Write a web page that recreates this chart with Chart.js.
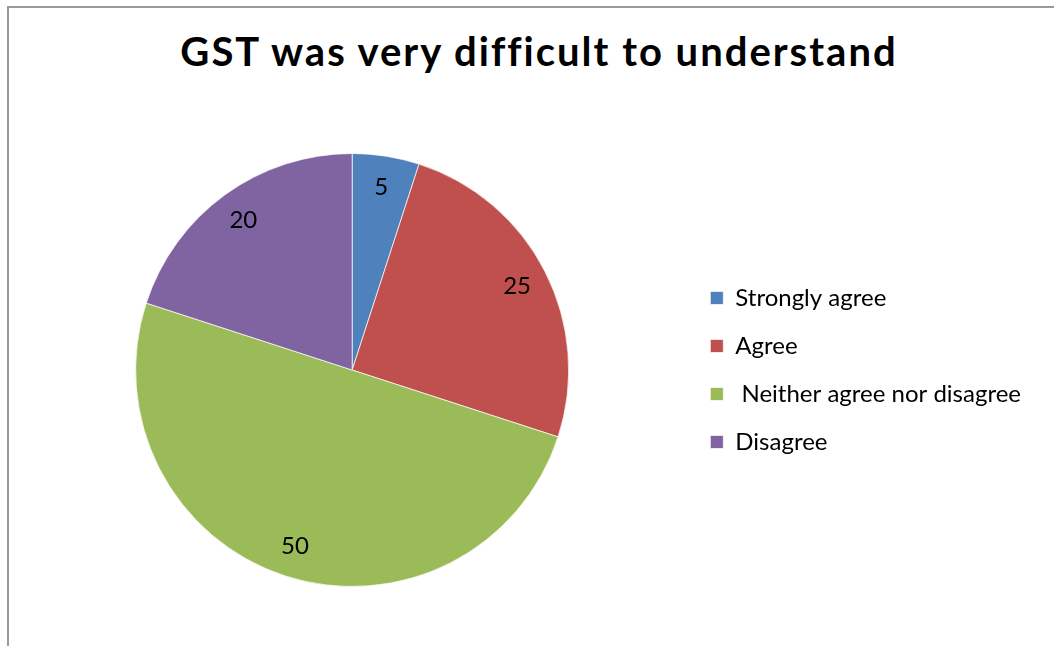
<!DOCTYPE html>
<html>
<head>
<meta charset="utf-8">
<title>GST survey</title>
<script src="https://cdn.jsdelivr.net/npm/chart.js@4"></script>
<style>
  html, body { margin: 0; padding: 0; background: #fff; overflow: hidden; }
  #wrap { position: relative; width: 1054px; height: 646px; }
  #frame { position: absolute; left: 7px; top: 6px; right: -4px; bottom: -4px;
           border-left: 2px solid #9a9a9a; border-top: 2px solid #9a9a9a; }
  #heading { position: absolute; left: 0; width: 1078px; top: 27px; margin: 0;
             font: bold 40px/48px Lato, "Open Sans", sans-serif; letter-spacing: 2px;
             text-align: center; color: #000; white-space: nowrap; }
  canvas { position: absolute; left: 0; top: 0; }
</style>
</head>
<body>
<div id="wrap">
  <div id="frame"></div>
  <h1 id="heading">GST was very difficult to understand</h1>
  <canvas id="pie" width="1054" height="646"></canvas>
</div>
<script>
const responses = ['Strongly agree', 'Agree', ' Neither agree nor disagree', 'Disagree'];
const counts = [5, 25, 50, 20];
const colors = ['#4F81BD', '#C0504D', '#9BBB59', '#8064A2'];
const FONT = 'Lato, "Open Sans", sans-serif';

// value labels sit near the rim of each slice
const sliceLabels = {
  id: 'sliceLabels',
  afterDatasetsDraw(chart) {
    const ctx = chart.ctx;
    const meta = chart.getDatasetMeta(0);
    ctx.save();
    ctx.font = '24px ' + FONT;
    ctx.fillStyle = '#000';
    ctx.textAlign = 'center';
    ctx.textBaseline = 'middle';
    meta.data.forEach((arc, i) => {
      const p = arc.getProps(['x', 'y', 'startAngle', 'endAngle', 'outerRadius'], true);
      const mid = (p.startAngle + p.endAngle) / 2;
      const r = p.outerRadius * 0.855;
      ctx.fillText(String(counts[i]), p.x + Math.cos(mid) * r, p.y + Math.sin(mid) * r);
    });
    ctx.restore();
  }
};

new Chart(document.getElementById('pie'), {
  type: 'pie',
  data: { labels: responses, datasets: [
    { data: counts, backgroundColor: colors, borderColor: 'rgba(255,255,255,0.7)', borderWidth: 1 }
  ] },
  options: {
    responsive: false, animation: false,
    layout: { padding: { left: 18, right: 23, top: 153, bottom: 59 } },
    plugins: {
      legend: { position: 'right', fullSize: false,
                labels: { boxWidth: 13, boxHeight: 13, padding: 24, color: '#000',
                          font: { family: FONT, size: 24 } } },
      tooltip: { enabled: false }
    }
  },
  plugins: [sliceLabels]
});
</script>
</body>
</html>
